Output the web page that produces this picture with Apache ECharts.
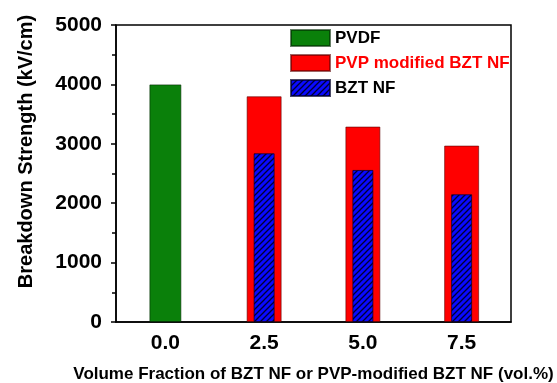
<!DOCTYPE html>
<html>
<head>
<meta charset="utf-8">
<script src="https://cdn.jsdelivr.net/npm/echarts@6/dist/echarts.min.js"></script>
<style>
  html, body { margin: 0; padding: 0; background: #fff; }
  #chart { width: 557px; height: 383px; }
</style>
</head>
<body>
<div id="chart"></div>
<script>
// Volume fraction categories (vol.%)
const categories = ['0.0', '2.5', '5.0', '7.5'];
// Breakdown strength (kV/cm)
const pvdfValues = [4000, null, null, null];
const pvpBztValues = [null, 3800, 3290, 2970];
const bztValues = [null, 2840, 2560, 2150];
const yTicks = [0, 1000, 2000, 3000, 4000, 5000];

const FONT = 'Arial, "Liberation Sans", sans-serif';

// Diagonal hatch tile for the BZT NF bars
function hatchPattern() {
  const s = 6;
  const c = document.createElement('canvas');
  c.width = s; c.height = s;
  const g = c.getContext('2d');
  g.fillStyle = '#0a0aff';
  g.fillRect(0, 0, s, s);
  g.strokeStyle = '#000033';
  g.lineWidth = 1.3;
  g.beginPath();
  g.moveTo(-1, s + 1); g.lineTo(s + 1, -1);
  g.moveTo(-1, 1); g.lineTo(1, -1);
  g.moveTo(s - 1, s + 1); g.lineTo(s + 1, s - 1);
  g.stroke();
  return { image: c, repeat: 'repeat' };
}

const chart = echarts.init(document.getElementById('chart'), null, { renderer: 'canvas' });

const hiddenX = {
  type: 'category', data: categories, gridIndex: 0, position: 'bottom',
  axisLine: { show: false }, axisTick: { show: false }, axisLabel: { show: false }
};

chart.setOption({
  animation: false,
  backgroundColor: '#fff',
  grid: {
    left: 116, right: 46, top: 25, bottom: 61,
    containLabel: false, outerBoundsMode: 'none',
    show: true, borderColor: '#000', borderWidth: 1.5
  },
  legend: {
    orient: 'vertical',
    left: 285, top: 24,
    itemWidth: 39, itemHeight: 16, itemGap: 7,
    icon: 'rect',
    textStyle: { fontFamily: FONT, fontWeight: 'bold', fontSize: 17, color: '#000' },
    data: [
      { name: 'PVDF' },
      { name: 'PVP modified BZT NF', textStyle: { color: '#ff0000' } },
      { name: 'BZT NF' }
    ]
  },
  xAxis: [
    {
      type: 'category', data: categories,
      name: 'Volume Fraction of BZT NF or PVP-modified BZT NF (vol.%)',
      nameLocation: 'middle', nameGap: 44,
      nameTextStyle: { fontFamily: FONT, fontWeight: 'bold', fontSize: 17, color: '#000' },
      axisLine: { lineStyle: { color: '#000', width: 1.5 } },
      axisTick: { alignWithLabel: true, length: 4, lineStyle: { color: '#000', width: 1.5 } },
      axisLabel: { fontFamily: FONT, fontWeight: 'bold', fontSize: 21, color: '#000', margin: 11 }
    },
    {
      // boundary ticks between categories
      type: 'category', data: categories, position: 'bottom',
      axisLine: { show: false },
      axisTick: { length: 4, lineStyle: { color: '#000', width: 1.5 } },
      axisLabel: { show: false }
    },
    Object.assign({}, hiddenX),
    Object.assign({}, hiddenX)
  ],
  yAxis: {
    type: 'value', min: yTicks[0], max: yTicks[yTicks.length - 1], interval: 1000,
    name: 'Breakdown Strength (kV/cm)',
    nameLocation: 'middle', nameGap: 80, nameRotate: 90,
    nameTextStyle: { fontFamily: FONT, fontWeight: 'bold', fontSize: 20, color: '#000', padding: [0, 0, 0, 44] },
    axisLine: { show: true, lineStyle: { color: '#000', width: 1.5 } },
    axisTick: { show: true, length: 5, lineStyle: { color: '#000', width: 1.5 } },
    minorTick: { show: true, splitNumber: 2, length: 4, lineStyle: { color: '#000', width: 1.5 } },
    splitLine: { show: false },
    axisLabel: {
      fontFamily: FONT, fontWeight: 'bold', fontSize: 21, color: '#000', margin: 14,
      formatter: v => String(v)
    }
  },
  series: [
    {
      name: 'PVDF', type: 'bar', xAxisIndex: 0, data: pvdfValues, barWidth: 32,
      itemStyle: { color: '#0a800a', borderColor: 'rgba(0,40,0,0.6)', borderWidth: 1 }
    },
    {
      name: 'PVP modified BZT NF', type: 'bar', xAxisIndex: 2, data: pvpBztValues, barWidth: 35,
      itemStyle: { color: '#ff0000', borderColor: 'rgba(90,0,0,0.6)', borderWidth: 1 }
    },
    {
      name: 'BZT NF', type: 'bar', xAxisIndex: 3, data: bztValues, barWidth: 21, z: 3,
      itemStyle: { color: hatchPattern(), borderColor: 'rgba(0,0,40,0.7)', borderWidth: 1 }
    }
  ]
});
</script>
</body>
</html>
